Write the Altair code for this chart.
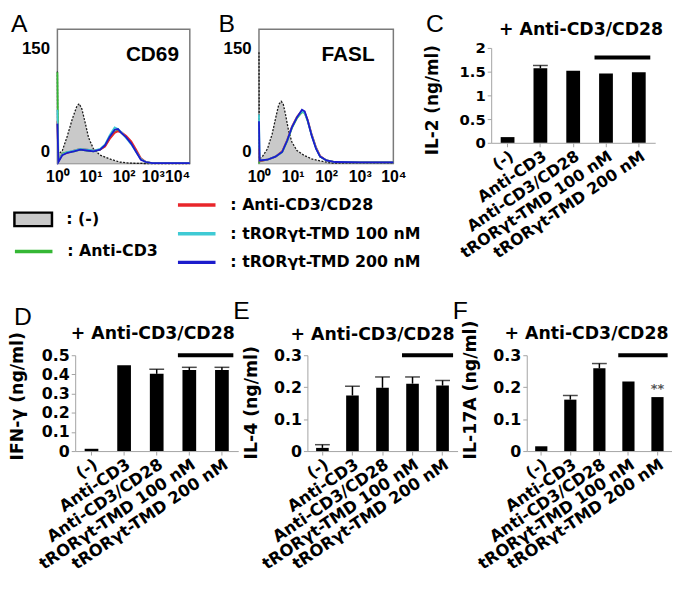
import altair as alt
import pandas as pd

# ---------------- data ----------------
conditions = ["(-)", "Anti-CD3", "Anti-CD3/CD28", "tRORγt-TMD 100 nM", "tRORγt-TMD 200 nM"]
line_conditions = ["Anti-CD3", "Anti-CD3/CD28", "tRORγt-TMD 100 nM", "tRORγt-TMD 200 nM"]
line_colors = ["#35b735", "#e8262b", "#3fcad4", "#1c1ccc"]
neg_fill = "#c9c9c9"

# Panel A: CD69 histograms (x = log10 fluorescence, y = count)
cd69_neg_log = [0.0, 0.01, 0.15, 0.3, 0.45, 0.59, 0.66, 0.74, 0.84, 0.94, 1.09, 1.29, 1.58, 1.88, 2.18, 2.67, 4.0]
cd69_neg_count = [120, 11, 17, 36, 58, 75, 78, 71, 53, 34, 19, 11, 6, 2, 0.5, 0, 0]
cd69_log = [0.0, 0.03, 0.15, 0.3, 0.5, 0.69, 0.89, 1.09, 1.29, 1.44, 1.58, 1.73, 1.83, 1.93, 2.08, 2.23, 2.38, 2.52, 2.67, 2.87, 3.2, 3.6, 4.0]
cd69_anti_cd3 = [119, 3, 13, 15, 16, 18, 17, 16, 18, 23, 33, 41, 43, 40, 34, 27, 16, 6, 2, 0.5, 0.5, 0.5, 0.5]
cd69_anti_cd3_cd28 = [55, 3, 12, 14, 17, 19, 18, 17, 18, 22, 32, 40, 42, 41, 36, 29, 18, 7, 2, 0.5, 0.5, 0.5, 0.5]
cd69_tmd_100 = [70, 3, 12, 15, 17, 19, 18, 17, 19, 25, 37, 47, 45, 41, 33, 25, 15, 6, 2, 0.5, 0.5, 0.5, 0.5]
cd69_tmd_200 = [52, 2, 11, 14, 16, 18, 17, 16, 18, 24, 35, 44, 45, 40, 34, 26, 15, 5, 2, 0.5, 0.5, 0.5, 0.5]

# Panel B: FASL histograms
fasl_neg_log = [0.0, 0.01, 0.1, 0.25, 0.39, 0.51, 0.59, 0.66, 0.72, 0.79, 0.88, 0.98, 1.13, 1.33, 1.57, 1.87, 2.16, 4.0]
fasl_neg_count = [145, 6, 9, 19, 38, 62, 77, 81, 78, 64, 43, 28, 17, 11, 6, 3, 0.5, 0.5]
fasl_log = [0.0, 0.02, 0.25, 0.49, 0.69, 0.84, 0.98, 1.13, 1.28, 1.36, 1.45, 1.57, 1.70, 1.82, 2.01, 2.26, 3.0, 4.0]
fasl_anti_cd3 = [0, 3, 5, 9, 15, 29, 46, 59, 67, 66, 55, 37, 20, 9, 4, 2, 1.5, 1.5]
fasl_anti_cd3_cd28 = [20, 3, 5, 9, 16, 31, 48, 61, 69, 67, 57, 38, 21, 10, 4, 2, 1.5, 1.5]
fasl_tmd_100 = [64, 4, 5, 9, 15, 30, 47, 60, 68, 66, 56, 37, 20, 9, 4, 2, 1.5, 1.5]
fasl_tmd_200 = [55, 4, 5, 9, 15, 30, 47, 60, 70, 68, 56, 36, 19, 9, 4, 2, 1.5, 1.5]

# Panels C-F: cytokines (ng/ml), mean and upper error
il2_values = [0.12, 1.57, 1.52, 1.46, 1.49]
il2_errors = [0.0, 0.06, 0.0, 0.0, 0.0]
ifng_values = [0.012, 0.448, 0.403, 0.423, 0.423]
ifng_errors = [0.0, 0.0, 0.024, 0.014, 0.014]
il4_values = [0.010, 0.174, 0.198, 0.211, 0.205]
il4_errors = [0.010, 0.029, 0.034, 0.021, 0.016]
il17a_values = [0.015, 0.161, 0.259, 0.218, 0.169]
il17a_errors = [0.0, 0.013, 0.015, 0.0, 0.0]
il17a_stars = ["", "", "", "", "**"]
no_stars = ["", "", "", "", ""]
bracket_levels = [1.8, 0.5, 0.3, 0.3]  # height of the comparison bar in C, D, E, F
heading = "+ Anti-CD3/CD28"

# ---------------- style ----------------
HF = "Liberation Sans"
BF = "DejaVu Sans"
AX = "#a3a3a3"
RECT = "M-1,-0.36H1V0.36H-1Z"
SUP = "'10' + ['\u2070','\u00b9','\u00b2','\u00b3','\u2074'][datum.value]"


def text_layer(txt, x, y, **kw):
    return alt.Chart(pd.DataFrame({"t": [txt]})).mark_text(**kw).encode(
        text="t:N", x=alt.value(x), y=alt.value(y))


def spacer(w, h):
    return alt.Chart(pd.DataFrame({"t": [""]})).mark_text().encode(text="t:N").properties(
        width=w, height=h)


def curves_df(xs, series):
    rows = []
    for cond, ys in zip(line_conditions, series):
        for x, y in zip(xs, ys):
            rows.append({"cond": cond, "logx": x, "count": y})
    return pd.DataFrame(rows)


def legend_props():
    return dict(title=None, orient="none", labelExpr="': ' + datum.label", labelFont=BF,
                labelFontWeight="bold", labelFontSize=16, labelColor="black", labelOffset=13,
                labelLimit=400, padding=0, symbolSize=1444, symbolOpacity=1)


color_legend = alt.Legend(values=line_conditions[1:], legendX=120, legendY=157,
                          symbolType="stroke", symbolStrokeWidth=3.5, rowPadding=-7.5,
                          **legend_props())


def hist_panel(neg_x, neg_y, xs, series, letter, marker, w, h, lx, ly, mx, align_rule,
               offset_rule, extra=()):
    xa = alt.Axis(title=None, values=[0, 1, 2, 3, 4], labelExpr=SUP, domain=False, ticks=False,
                  grid=False, labelPadding=5, labelFont=HF, labelFontWeight="bold",
                  labelFontSize=16, labelColor="black", labelOverlap=False, labelFlush=False,
                  labelAlign=align_rule, labelOffset=offset_rule)
    ya = alt.Axis(title=None, values=[0, 150], domain=False, ticks=False, grid=False,
                  labelPadding=8, labelFont=HF, labelFontWeight="bold", labelFontSize=17,
                  labelColor="black", labelOverlap=False, labelFlush=False,
                  labelBaseline={"condition": {"test": "datum.value == 0", "value": "bottom"},
                                 "value": "middle"},
                  labelOffset={"condition": {"test": "datum.value == 0", "value": -3},
                               "value": 0})
    X = alt.X("logx:Q", scale=alt.Scale(domain=[0, 4], nice=False, zero=False), axis=xa)
    Y = alt.Y("count:Q", scale=alt.Scale(domain=[0, 175], nice=False), axis=ya)
    neg = alt.Chart(pd.DataFrame({"logx": neg_x, "count": neg_y}))
    area = neg.mark_area(color=neg_fill).encode(x=X, y=Y)
    outline = neg.mark_line(color="#1a1a1a", strokeWidth=1.3, strokeDash=[2, 1.5]).encode(
        x=X, y=Y)
    lines = alt.Chart(curves_df(xs, series)).mark_line(strokeWidth=1.8).encode(
        x=X, y=Y,
        color=alt.Color("cond:N", scale=alt.Scale(domain=line_conditions, range=line_colors),
                        legend=color_legend))
    letter_l = text_layer(letter, lx, ly, align="left", baseline="top", font=HF, fontSize=25,
                          color="black")
    marker_l = text_layer(marker, w - mx, 26, align="right", baseline="middle", font=HF,
                          fontSize=21, fontWeight="bold", color="black")
    return alt.layer(area, outline, lines, letter_l, marker_l, *extra).properties(
        width=w, height=h, view=alt.ViewBackground(stroke="#7a7a7a", strokeWidth=1.5))


def bar_panel(values, errors, stars, ytitle, ymax, yticks, letter, sig_y, w, h, lx, ly,
              head_x, head_y, tx, ty, tick_size, label_size, title_size):
    df = pd.DataFrame({"cond": conditions, "value": values, "err": errors, "star": stars})
    xa = alt.Axis(title=None, labelAngle=-34, labelFont=BF, labelFontWeight="bold",
                  labelFontSize=label_size, labelColor="black", domainColor=AX, tickColor=AX,
                  tickSize=4, labelPadding=1, labelLimit=400, labelOverlap=False)
    ya = alt.Axis(title=ytitle, values=yticks, format="~g", grid=False, domainColor=AX,
                  tickColor=AX, tickSize=4, labelPadding=2, labelFont=BF, labelFontWeight="bold",
                  labelFontSize=tick_size, labelColor="black", titleFont=BF,
                  titleFontWeight="bold", titleFontSize=title_size, titleColor="black",
                  titleAngle=270, titleAlign="left", titleBaseline="middle", titleX=tx,
                  titleY=ty, labelOverlap=False)
    X = alt.X("cond:N", scale=alt.Scale(domain=conditions, paddingInner=0, paddingOuter=0),
              axis=xa, sort=conditions)
    Y = alt.Y("value:Q", scale=alt.Scale(domain=[0, ymax], nice=False), axis=ya)
    base = alt.Chart(df)
    bars = base.mark_bar(color="black", width=alt.RelativeBandSize(0.42)).encode(x=X, y=Y)
    eb = base.transform_filter("datum.err > 0").transform_calculate(top="datum.value + datum.err")
    err = eb.mark_rule(color="black", strokeWidth=1.5).encode(
        x=X, y=Y, y2=alt.Y2(field="top"))
    cap = eb.mark_tick(color="black", thickness=1.5, size=15).encode(
        x=X, y=alt.Y("top:Q", scale=alt.Scale(domain=[0, ymax], nice=False), axis=ya))
    star = base.mark_text(font=BF, fontWeight="bold", fontSize=13, color="#555555",
                          baseline="alphabetic", dy=-4).encode(x=X, y=Y, text="star:N")
    sig = alt.Chart(pd.DataFrame({"start": [conditions[3]], "end": [conditions[4]],
                                  "y": [sig_y]})).mark_rule(color="black", strokeWidth=4).encode(
        x=alt.X("start:N", bandPosition=0.15, scale=alt.Scale(domain=conditions, paddingInner=0,
                                                               paddingOuter=0), axis=xa),
        x2=alt.X2(field="end", bandPosition=0.85),
        y=alt.Y("y:Q", scale=alt.Scale(domain=[0, ymax], nice=False), axis=ya))
    letter_l = text_layer(letter, lx, ly, align="left", baseline="top", font=HF, fontSize=25,
                          color="black")
    head_l = text_layer(heading, head_x, head_y, align="center", baseline="alphabetic", font=BF,
                        fontWeight="bold", fontSize=17.5, color="black")
    return alt.layer(bars, err, cap, star, sig, letter_l, head_l).properties(width=w, height=h)


# ---------------- legends for the histogram conditions ----------------
fill_legend_layer = alt.Chart(pd.DataFrame({"name": ["(-)"]})).transform_filter("false").mark_point(
    filled=True, stroke="black", strokeWidth=2.5).encode(
    fill=alt.Fill("name:N", scale=alt.Scale(domain=["(-)"], range=[neg_fill]),
                  legend=alt.Legend(legendX=-45, legendY=172, symbolType=RECT,
                                    symbolStrokeColor="black", symbolStrokeWidth=2.5,
                                    **legend_props())))
stroke_legend_layer = alt.Chart(pd.DataFrame({"name": ["Anti-CD3"]})).transform_filter("false").mark_point(
    filled=False, strokeWidth=3.5).encode(
    stroke=alt.Stroke("name:N", scale=alt.Scale(domain=["Anti-CD3"], range=[line_colors[0]]),
                      legend=alt.Legend(legendX=-45, legendY=204, symbolType="stroke",
                                        symbolStrokeWidth=3.5, **legend_props())))

align_a = {"condition": {"test": "datum.value == 4", "value": "right"}, "value": "center"}
offset_a = {"condition": {"test": "datum.value == 3", "value": -4}, "value": 0}
align_b = "center"
offset_b = 0

# ---------------- panels ----------------
A = hist_panel(cd69_neg_log, cd69_neg_count, cd69_log,
               [cd69_anti_cd3, cd69_anti_cd3_cd28, cd69_tmd_100, cd69_tmd_200],
               "A", "CD69", 134, 136, -47, -17, 11, align_a, offset_a,
               extra=(fill_legend_layer, stroke_legend_layer))
B = hist_panel(fasl_neg_log, fasl_neg_count, fasl_log,
               [fasl_anti_cd3, fasl_anti_cd3_cd28, fasl_tmd_100, fasl_tmd_200],
               "B", "FASL", 136, 136, -41, -17, 19, align_b, offset_b)
C = bar_panel(il2_values, il2_errors, no_stars, "IL-2 (ng/ml)", 2, [0, 0.5, 1, 1.5, 2], "C",
              bracket_levels[0], 166, 96, -66, -36, 91, -13, -59, 108, 15, 16, 17)
D = bar_panel(ifng_values, ifng_errors, no_stars, "IFN-γ (ng/ml)", 0.5,
              [0, 0.1, 0.2, 0.3, 0.4, 0.5], "D", bracket_levels[1], 165, 97, -62, -51, 78.5, -16,
              -58, 106, 16, 16.5, 17.5)
E = bar_panel(il4_values, il4_errors, no_stars, "IL-4 (ng/ml)", 0.3, [0, 0.1, 0.2, 0.3], "E",
              bracket_levels[2], 152, 97, -75, -57, 66, -15, -57, 105, 16, 16.5, 17.5)
F = bar_panel(il17a_values, il17a_errors, il17a_stars, "IL-17A (ng/ml)", 0.3, [0, 0.1, 0.2, 0.3],
              "F", bracket_levels[3], 147, 97, -75, -57, 60.5, -16, -57, 105, 16, 16.5, 17.5)

colC = alt.vconcat(spacer(166, 1), C, spacing=18, bounds="flush")
row1 = alt.hconcat(alt.hconcat(A, B, spacing=23), colC, spacing=16)
row2 = alt.hconcat(spacer(1, 1), alt.hconcat(D, E, F, spacing=70, bounds="flush"),
                   spacing=17, bounds="flush")
chart = alt.vconcat(row1, row2, spacing=38).properties(padding=0).configure_view(stroke=None)

chart.save("out.html", embed_options={"renderer": "svg", "actions": False})
